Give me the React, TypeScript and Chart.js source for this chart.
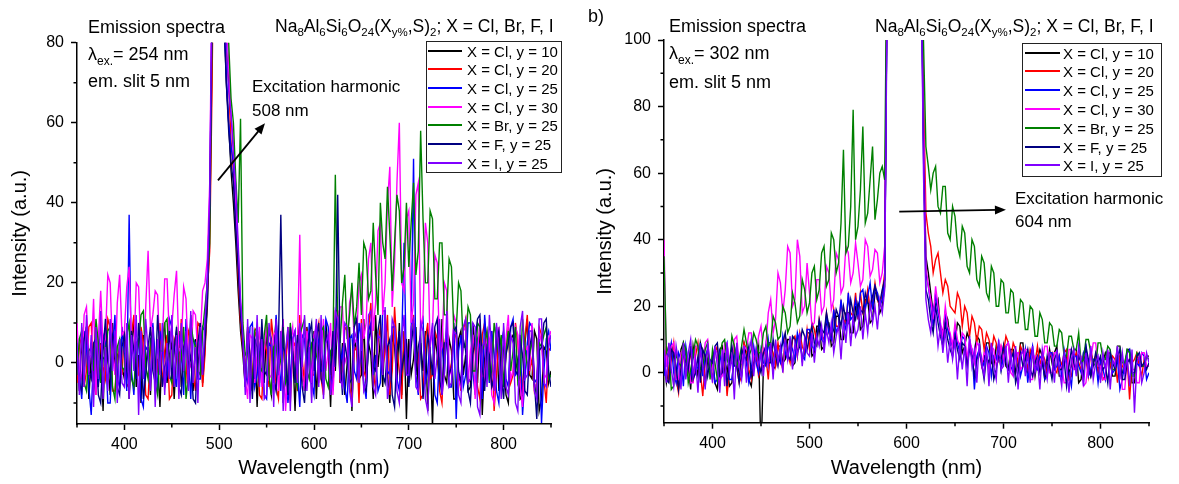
import React, { useEffect, useRef } from 'react';
import { Chart, registerables } from 'chart.js';

Chart.register(...registerables);

const FONT = '"Liberation Sans", Arial, Helvetica, sans-serif';
Chart.defaults.font.family = FONT;

// ---------- data (2.5 nm steps) ----------
const WAVELENGTHS = [
  350, 352.5, 355, 357.5, 360, 362.5, 365, 367.5, 370, 372.5, 375, 377.5, 380, 382.5, 385, 387.5, 390, 392.5, 395, 397.5,
  400, 402.5, 405, 407.5, 410, 412.5, 415, 417.5, 420, 422.5, 425, 427.5, 430, 432.5, 435, 437.5, 440, 442.5, 445, 447.5,
  450, 452.5, 455, 457.5, 460, 462.5, 465, 467.5, 470, 472.5, 475, 477.5, 480, 482.5, 485, 487.5, 490, 492.5, 495, 497.5,
  500, 502.5, 505, 507.5, 510, 512.5, 515, 517.5, 520, 522.5, 525, 527.5, 530, 532.5, 535, 537.5, 540, 542.5, 545, 547.5,
  550, 552.5, 555, 557.5, 560, 562.5, 565, 567.5, 570, 572.5, 575, 577.5, 580, 582.5, 585, 587.5, 590, 592.5, 595, 597.5,
  600, 602.5, 605, 607.5, 610, 612.5, 615, 617.5, 620, 622.5, 625, 627.5, 630, 632.5, 635, 637.5, 640, 642.5, 645, 647.5,
  650, 652.5, 655, 657.5, 660, 662.5, 665, 667.5, 670, 672.5, 675, 677.5, 680, 682.5, 685, 687.5, 690, 692.5, 695, 697.5,
  700, 702.5, 705, 707.5, 710, 712.5, 715, 717.5, 720, 722.5, 725, 727.5, 730, 732.5, 735, 737.5, 740, 742.5, 745, 747.5,
  750, 752.5, 755, 757.5, 760, 762.5, 765, 767.5, 770, 772.5, 775, 777.5, 780, 782.5, 785, 787.5, 790, 792.5, 795, 797.5,
  800, 802.5, 805, 807.5, 810, 812.5, 815, 817.5, 820, 822.5, 825, 827.5, 830, 832.5, 835, 837.5, 840, 842.5, 845, 847.5,
  850,
];

const SERIES_LABELS = [
  'X = Cl, y = 10',
  'X = Cl, y = 20',
  'X = Cl, y = 25',
  'X = Cl, y = 30',
  'X = Br, y = 25',
  'X = F, y = 25',
  'X = I, y = 25',
];
const SERIES_COLORS = ['#000000', '#ff0000', '#0000ff', '#ff00ff', '#008000', '#000080', '#8000ff'];

// panel a) excitation 254 nm
const L_CL10 = [
  3, -7, 6, -4, 9, -9, 2, -3, 8, -6, 5, -12, 7, 1, -8, 10, -2, -5, 6, -1,
  -4, 8, -9, 3, 11, -6, 2, -10, 7, -1, 4, -8, 9, -3, 1, -11, 6, 10, -5, 2,
  5, -9, 3, 8, -6, 0, 9, -4, 12, -7, 6, -2, 10, -5, 4, 14, 34, 78, 125, 150,
  155, 118, 88, 70, 60, 48, 40, 30, 18, 8, 2, -6, 9, -3, -7, 6, -11, 4, 7, -5,
  9, -4, -8, 3, 11, -2, 6, -10, 1, 8, -6, 4, -12, 5, 10, -3, -7, 9, 2, -4,
  8, -9, 4, 1, -6, 10, 3, -11, 7, -2, 12, -5, 5, -8, 0, 9, -12, 6, 3, -4,
  -3, 11, -7, 5, 2, -9, 12, -1, 6, -6, 9, -3, -10, 7, 4, -5, 10, -8, 8, -14,
  6, -3, 1, 9, -7, 5, -2, 8, -12, 4, -16, 7, 2, -6, 11, -3, -5, 6, 3, -9,
  -9, 6, 8, -3, 2, -7, -6, 10, 4, -5, 10, -13, 1, 7, 5, -6, -3, 9, -7, 2,
  4, -8, -10, 6, 7, -2, 1, -9, -8, 5, 11, -3, -4, 8, 6, -12, -9, 4, 3, -5,
  -2,
];
const L_CL20 = [
  -5, 4, 7, -6, -2, 9, 10, -4, -8, 6, 4, -1, -4, 11, 9, -7, -7, 2, 3, -3,
  8, -6, -5, 7, 12, -2, -3, 9, 5, -8, -9, 4, 9, -5, -1, 10, -6, 3, 7, -9,
  -8, 6, 4, -5, 11, -1, -4, 8, 6, -3, -7, 10, 9, -6, 2, 18, 28, 70, 125, 150,
  160, 125, 95, 78, 70, 55, 48, 36, 22, 10, 4, -5, 9, 2, -4, 8, 6, -8, -9, 5,
  3, -6, 11, 5, -6, -9, 8, 3, -2, 9, -10, 4, 5, -7, 12, 1, -5, 8, 6, -3,
  -3, 7, 10, -4, -8, 6, 5, -6, -5, 13, 13, -4, -2, 9, 8, -6, -9, 3, 4, -10,
  11, -2, -4, 8, 15, -3, -6, 5, 9, -1, 3, 12, -8, -2, 14, 4, -2, -9, 7, 5,
  -5, 8, 12, -2, 2, -9, -8, 6, 10, -4, -3, 8, 6, -7, -10, 4, 8, -3, 0, 9,
  6, -3, -7, 8, 11, -5, -4, 6, 3, -6, -9, 7, 10, -1, -2, 8, -12, -3, 7, 4,
  -6, 2, 9, -5, -3, 10, 5, -4, -8, 6, 12, -2, 1, -7, -5, 9, 7, -4, -10, 3,
  4,
];
const L_CL25 = [
  6, -3, -9, 8, 4, -6, -13, 2, 9, -5, -2, 7, 5, -10, -10, 3, 12, -4, -6, 9,
  2, -7, 37, -2, -8, 5, 6, -9, -11, 4, 3, -5, 10, 1, -7, 8, 4, -6, -3, 11,
  9, -2, -6, 7, 3, -8, 11, 2, -9, 6, 5, -4, -4, 9, 8, 22, 40, 92, 135, 150,
  150, 110, 88, 72, 60, 54, 50, 38, 26, 14, 6, -3, -5, 9, 10, -6, -3, 4, 7, -8,
  -9, 5, 4, -5, 12, 3, -7, 8, 2, -10, -4, 6, 8, -2, -11, 7, 6, -3, 10, -5,
  -8, 9, 5, -2, -2, 11, 9, -4, -6, 8, 12, -1, 3, -6, -10, 6, 7, -2, -4, 10,
  6, -5, -9, 8, 10, -3, 2, -7, -5, 13, 13, -2, -3, 9, 9, -4, -7, 5, 30, -2,
  -4, 8, 51, -3, -8, 9, 11, -5, -2, 6, 7, -8, -10, 4, 5, -3, 9, -6, -6, 10,
  -14, 3, 7, -6, -3, 10, 10, -2, -8, 6, 4, -9, 12, 3, -5, 8, 2, -7, -10, 5,
  8, -4, -6, 9, 11, -3, -2, 7, -13, -4, 5, 10, 9, -5, -4, 6, -15, -2, 6, 8,
  3,
];
const L_CL30 = [
  10, -2, -4, 12, 14, 1, 2, 16, -8, 6, 18, 4, 6, 22, 20, 3, -3, 15, 22, 7,
  8, 19, 24, 5, 3, 20, 19, 2, -2, 14, 28, 8, 12, 18, 17, 1, 5, 21, 21, 6,
  9, 17, 23, 3, 4, 19, 16, 0, -1, 13, 12, 2, 6, 18, 20, 26, 45, 100, 140, 155,
  160, 128, 100, 86, 75, 62, 55, 40, 28, 15, 8, -4, -9, 7, 6, -5, 2, 9, -6, 3,
  10, -4, -3, 7, 8, -7, 5, 11, -12, -2, 5, 9, -2, 4, 32, -3, -7, 8, 4, -5,
  7, 9, -5, 2, 11, -2, 3, 10, -8, 4, 9, 14, 14, 0, 2, 15, 18, 5, 6, 20,
  22, 6, 10, 26, 30, 8, 15, 33, 35, 12, 20, 40, 49, 14, 25, 45, 60, 20, 18, 36,
  38, 10, 15, 42, 45, 8, 12, 35, 30, 4, 8, 27, 25, 2, 4, 20, 18, -1, -3, 12,
  10, -4, -6, 9, 8, -5, 3, 7, -9, 2, 11, -3, -4, 8, 6, -8, -10, 4, 9, -2,
  -5, 6, 12, -4, -2, 9, 7, -6, -11, 3, 4, -2, 10, -5, -7, 8, 5, -4, -3, 6,
  8,
];
const L_BR25 = [
  -3, 6, 8, -5, -7, 3, 4, -2, 11, 5, -5, 1, 2, 8, 9, -6, -9, 4, 6, -1,
  -2, 7, 10, -4, -6, 2, 5, 12, 13, -1, -4, 6, 7, -5, -8, 3, 3, 10, 11, -3,
  -5, 4, 8, -2, 1, 9, -9, -3, 10, 6, 4, -2, -3, 8, 14, 20, 30, 85, 128, 150,
  155, 120, 98, 88, 80, 66, 60, 46, 35, 61, 10, 2, 3, -5, -6, 8, 9, -1, -2, 7,
  12, -3, -8, 4, 5, -2, 1, 9, -5, -3, 10, 2, -3, -6, 7, 9, 11, -2, -4, 5,
  6, 2, -1, 8, 9, -4, -6, 3, 4, 47, 10, 5, 15, 22, 6, 12, 20, 9, 14, 25,
  12, 30, 28, 16, 18, 35, 22, 12, 40, 30, 26, 44, 32, 18, 30, 42, 38, 20, 24, 40,
  24, 35, 45, 22, 28, 58, 36, 20, 20, 38, 36, 16, 16, 30, 30, 12, 12, 26, 24, 8,
  8, 20, 18, 4, 4, 14, 12, -2, -2, 10, 9, 3, 5, 8, -4, -2, 10, 6, 2, 7,
  -6, 3, 8, -2, 3, 9, -5, -3, 11, 4, -1, 2, 6, -6, -8, 5, 4, 7, 9, -4,
  -3,
];
const L_F25 = [
  2, -5, -7, 6, 9, -2, -4, 5, 6, -8, -10, 3, 11, 1, -3, 7, 5, -6, -8, 4,
  7, -2, -5, 8, 3, -4, 10, 2, -9, -3, 4, 9, -2, -5, 12, 3, -6, -1, 1, 8,
  -4, 3, 9, -6, -8, 4, 6, -1, 2, -9, -10, 5, 10, -3, 5, 16, 38, 88, 132, 150,
  150, 112, 86, 70, 58, 50, 45, 33, 24, 12, 5, -6, 8, 2, -9, 6, 4, -5, 11, -2,
  -3, 8, 6, -4, -7, 5, 37, 4, 2, -8, 9, 3, -5, 7, 3, -6, -10, 2, 7, 10,
  -2, 6, 10, -4, -6, 8, 4, -3, 8, -1, 42, 3, -8, 5, 1, -5, -4, 9, 11, -2,
  3, -6, -7, 5, 9, -1, -2, 8, 12, -3, -5, 4, 6, -8, -11, 3, 8, -2, 2, 6,
  -6, 4, 10, -3, 4, 7, -9, -2, 7, 3, -3, 9, 11, -4, -8, 5, 5, -3, -1, 8,
  9, -2, -5, 6, 3, -7, -10, 2, 6, 11, 12, -1, -7, 4, 2, -6, -4, 5, 8, -3,
  -9, 2, 5, 9, 10, -2, -3, 6, 2, -7, -8, 4, 7, -5, -14, 3, 4, 10, 11, -2,
  -6,
];
const L_I25 = [
  5, -8, 10, -6, 12, -3, 7, -11, 9, -4, 13, -9, 4, -7, 11, -2, 8, -10, 6, -5,
  -6, 10, -9, 7, -2, 12, -13, 8, -4, 11, 3, -7, 9, -11, 6, -3, 10, -8, 5, -4,
  12, -6, 7, -9, 10, -2, 8, -7, 13, -5, 4, -10, 9, -3, 11, 20, 42, 95, 140, 155,
  160, 124, 92, 80, 68, 62, 52, 44, 30, 16, 7, -8, 11, -10, 9, -4, 12, -6, 6, -9,
  -8, 10, 5, -11, 11, -3, 8, -12, 3, 9, -12, 6, 8, -5, 10, -1, 12, -7, 4, -10,
  4, 11, -6, 12, -9, 5, 7, -8, -3, 13, 11, -4, -6, 10, 9, -7, -11, 8, 6, -5,
  10, -7, -5, 12, 13, -6, -8, 7, 6, -3, 14, -9, -4, 11, 9, -7, -10, 6, 12, -3,
  -3, 9, 11, -6, -7, 10, 8, -9, -12, 5, 10, -4, 2, 11, -8, -3, 13, -6, -5, 8,
  7, -8, -10, 9, 11, -5, -4, 10, 9, -11, -13, 4, 6, -6, 12, 3, -7, 10, 3, -9,
  10, -6, -8, 7, 5, -10, -12, 9, 13, -4, -3, 8, 8, -7, -9, 11, 11, -5, -6, 4,
  7,
];

// panel b) excitation 302 nm
const R_CL10 = [
  6, -3, 1, 8, 5, -2, -4, 7, 9, 0, 2, -5, 8, 3, -1, 9, 6, -4, 4, 1,
  5, -3, -5, 7, 8, 0, 2, -4, -3, 6, 7, -1, 4, 9, 5, -2, -4, 3, 4, 8,
  -25, 2, 3, 9, 9, 1, 2, 8, 8, 3, 4, 10, 10, 2, 3, 11, 11, 4, 6, 12,
  12, 5, 6, 14, 14, 7, 8, 15, 15, 8, 9, 17, 17, 10, 10, 18, 18, 12, 12, 20,
  20, 13, 14, 22, 22, 15, 16, 24, 24, 18, 20, 26, 120, 150, 150, 150, 150, 150, 150, 150,
  150, 150, 150, 150, 150, 150, 130, 72, 35, 30, 24, 18, 20, 22, 14, 12, 18, 16, 10, 9,
  9, 15, 14, 6, 8, 12, 10, 4, 6, 11, 10, 2, 4, 9, 9, 3, 2, 8, 7, 1,
  8, 2, 1, 7, 7, 0, 3, 9, 9, 1, 0, 6, 6, -1, 4, 7, 5, -2, 1, 7,
  3, 6, 8, -1, -1, 5, 5, 0, 2, 7, 7, -3, -2, 6, 6, 1, -1, 4, 4, 2,
  -2, 3, 6, 4, 3, -1, -1, 5, 5, 0, 0, 7, 7, -3, -3, 4, 4, 2, 2, 5,
  5,
];
const R_CL20 = [
  2, 8, -3, 4, 9, -2, -6, 5, 6, -1, 1, 7, -3, 5, 9, 0, -7, 4, 7, 2,
  -2, 6, 8, -4, 3, 6, -7, 1, 5, 8, 2, -3, -1, 9, 7, 1, -2, 6, 5, -1,
  1, 7, 5, -2, 8, 6, 2, 9, 4, 1, 11, 6, 3, 10, 11, 5, 12, 8, 6, 13,
  7, 15, 13, 9, 16, 11, 10, 18, 12, 10, 19, 14, 14, 21, 16, 15, 23, 18, 17, 24,
  16, 24, 18, 20, 25, 19, 21, 27, 22, 20, 24, 30, 125, 150, 150, 150, 150, 150, 150, 150,
  150, 150, 150, 150, 150, 150, 135, 85, 48, 42, 38, 30, 34, 36, 30, 24, 28, 26, 20, 19,
  18, 24, 22, 14, 20, 18, 11, 17, 15, 9, 14, 13, 7, 12, 10, 6, 11, 9, 4, 8,
  6, 11, 9, 4, 9, 7, 3, 8, 6, 5, 1, 7, 5, 3, 8, 2, 6, 4, 0, 5,
  6, 1, 0, 5, 2, 6, 7, -2, -1, 4, 6, 3, 1, 5, 4, -1, 7, 3, 5, 0,
  3, -2, -1, 6, 2, 5, 4, -3, 5, 2, 1, 4, -8, 3, 4, 6, 2, -1, 4, 2,
  2,
];
const R_CL25 = [
  -1, 6, 5, 9, 0, -3, 6, 4, -4, 8, 3, -2, 7, 0, 2, 9, -1, 5, 7, 1,
  4, -3, -2, 6, 1, 7, 9, -2, -2, 5, 8, 1, -1, 6, 3, -3, 1, 8, 3, 0,
  7, 3, 2, 10, 4, 1, 8, 5, 3, 11, 6, 4, 9, 7, 4, 12, 9, 5, 4, 13,
  13, 8, 7, 11, 15, 10, 9, 17, 12, 10, 19, 12, 14, 22, 15, 13, 24, 16, 17, 22,
  17, 24, 25, 19, 23, 27, 19, 26, 24, 20, 22, 28, 118, 150, 150, 150, 150, 150, 150, 150,
  150, 150, 150, 150, 150, 150, 128, 70, 30, 26, 20, 14, 24, 18, 14, 10, 18, 13, 10, 8,
  13, 9, 6, 11, 10, 3, 9, 7, -5, 5, 7, 4, 2, 8, 6, -1, 5, 4, 9, 1,
  5, 8, 9, 2, 0, 6, 6, -1, 2, 7, -3, 4, 8, 2, 1, 5, 4, -2, -1, 6,
  6, 1, 2, 5, -1, 7, 3, 0, -4, 5, 5, 2, 0, 6, 8, -1, 1, 4, 4, -3,
  4, 1, -2, 6, 6, 0, 1, 4, -5, -2, 3, 6, 7, 0, -1, 3, 2, 6, 5, -2,
  0,
];
const R_CL30 = [
  40, 2, 3, 8, 9, -2, -2, 6, 7, 3, 4, -3, -3, 8, 8, 1, 2, 9, 10, 0,
  1, 7, 6, -2, -1, 9, 9, 3, 4, 10, 11, 2, 3, 8, 7, 12, 12, 4, 5, 11,
  14, 6, 8, 18, 22, 12, 16, 30, 27, 18, 25, 38, 36, 20, 22, 40, 35, 18, 20, 33,
  24, 14, 15, 28, 28, 18, 20, 32, 30, 19, 22, 36, 34, 24, 26, 38, 36, 27, 30, 39,
  33, 26, 28, 40, 38, 29, 31, 37, 36, 27, 30, 38, 122, 150, 150, 150, 150, 150, 150, 150,
  150, 150, 150, 150, 150, 150, 132, 78, 32, 26, 22, 16, 26, 20, 15, 11, 20, 14, 12, 8,
  15, 10, 8, 12, 11, 4, 10, 7, 3, 9, 8, 2, 6, 5, 1, 8, 7, 2, 4, 8,
  4, 8, 9, 0, -1, 6, 6, 1, 2, 7, 7, -2, -2, 5, 5, 2, 3, 8, 8, 0,
  0, 6, 6, 1, 2, -3, -3, 7, 7, 1, 1, 5, 5, -4, -3, 4, 4, 9, 9, 2,
  2, -2, -2, 6, 6, 3, 3, 8, 8, -5, -5, 4, 4, 1, 1, -3, -3, 6, 6, 2,
  2,
];
const R_BR25 = [
  35, 6, 8, -5, -4, 6, 3, 2, 9, 7, -3, 1, 5, 10, 8, 1, 2, 7, 9, -2,
  7, 3, -2, 5, 9, 10, 4, 2, 11, 8, 2, 4, 8, 13, 9, 5, 7, 12, 10, 6,
  6, 12, 14, 8, 9, 17, 15, 10, 11, 20, 18, 12, 14, 24, 21, 15, 17, 28, 25, 18,
  21, 30, 32, 22, 25, 36, 38, 26, 28, 42, 40, 30, 33, 45, 67, 36, 38, 50, 79, 40,
  44, 55, 74, 45, 48, 58, 68, 46, 52, 60, 62, 58, 135, 150, 150, 150, 150, 150, 150, 150,
  150, 150, 150, 150, 150, 150, 140, 100, 68, 62, 55, 60, 62, 50, 48, 56, 56, 42, 40, 50,
  47, 38, 35, 44, 42, 32, 30, 40, 38, 28, 26, 35, 33, 24, 22, 32, 30, 20, 20, 28,
  27, 18, 18, 25, 24, 15, 15, 22, 21, 13, 13, 20, 19, 11, 11, 18, 16, 9, 9, 15,
  14, 8, 8, 13, 12, 5, 5, 11, 11, 7, 7, 12, 3, 4, 10, 10, 6, 3, 2, 9,
  9, 4, 4, 8, 7, 1, 1, 8, 8, 3, 3, 7, 6, -1, -1, 6, 5, 2, 2, 5,
  4,
];
const R_F25 = [
  4, -2, -3, 7, 6, 2, -5, 1, 6, 3, 1, 8, -2, 0, 5, -3, 7, 5, -1, 4,
  3, 8, 9, -1, 0, 6, -4, 3, 8, 2, 2, -3, 7, 5, 4, 8, -1, 2, 7, 3,
  0, 6, 8, 3, 3, 10, 5, 2, 7, 9, 12, 5, 4, 11, 10, 6, 8, 13, 11, 7,
  11, 14, 9, 8, 16, 13, 12, 18, 14, 11, 13, 19, 17, 14, 20, 16, 15, 22, 18, 16,
  21, 19, 18, 24, 21, 20, 23, 26, 22, 21, 25, 28, 115, 150, 150, 150, 150, 150, 150, 150,
  150, 150, 150, 150, 150, 150, 126, 66, 25, 22, 16, 12, 20, 15, 11, 8, 15, 10, 7, 5,
  11, 7, 4, 9, 8, 2, 7, 5, -1, 4, 6, 3, -2, 5, 3, 6, -2, 1, 5, 4,
  8, 3, 1, 4, 6, -3, 0, 6, 2, 4, 7, 1, -1, 3, 5, 0, 3, -1, 5, 2,
  -2, 4, 6, 1, 1, 4, -4, 2, 7, 3, 0, 5, 3, -1, 8, 4, -1, 2, 6, 3,
  5, 1, 2, -3, 6, 3, 1, 5, 7, -2, -2, 3, 4, 0, 0, 5, 6, 2, 3, 1,
  3,
];
const R_I25 = [
  7, -3, 9, 1, -4, 8, 3, -5, 9, -2, 6, 10, -1, 4, -6, 7, 2, -5, 9, 3,
  -3, 8, 2, -6, 7, -4, 9, 0, 5, -8, 9, 2, -2, 8, -3, 6, 10, -1, 7, 2,
  6, -1, 8, 2, 9, -2, 10, 3, 8, 0, 10, 4, 11, 1, 9, 5, 12, 2, 10, 6,
  5, 12, 3, 11, 8, 14, 6, 13, 9, 15, 6, 11, 14, 4, 16, 9, 18, 8, 17, 11,
  13, 20, 10, 18, 12, 21, 15, 20, 13, 22, 18, 25, 110, 150, 150, 150, 150, 150, 150, 150,
  150, 150, 150, 150, 150, 150, 124, 60, 22, 16, 12, 20, 17, 8, 14, 6, 13, 3, 10, 4,
  10, -2, 9, 1, 8, -4, 11, 2, 7, -3, 9, 3, -1, 8, -4, 9, 2, -2, 10, 1,
  2, 8, -3, 6, 0, 8, -5, 5, 7, -1, 6, -3, 8, 0, 4, -5, 7, 2, -2, 6,
  5, -3, 7, 1, -4, 6, 2, -6, 4, 7, -1, 8, 3, -4, 6, 0, 8, -2, 3, 5,
  -3, 6, 1, 7, -5, 4, 2, 8, -2, 6, 0, 5, -4, 7, -12, 3, 5, -3, 0, 6,
  3,
];

const X_TICKS = [400, 500, 600, 700, 800];
const X_MINOR_TICKS = [350, 450, 550, 650, 750, 850];
const LEFT_Y_TICKS = [0, 20, 40, 60, 80];
const LEFT_Y_MINOR_TICKS = [-10, 10, 30, 50, 70];
const RIGHT_Y_TICKS = [0, 20, 40, 60, 80, 100];
const RIGHT_Y_MINOR_TICKS = [-10, 10, 30, 50, 70, 90];

// annotation arrows (data coordinates: [wavelength, intensity])
const LEFT_ARROW = { from: [498.7, 45.6], to: [548.3, 59.9] };
const RIGHT_ARROW = { from: [592.5, 48.4], to: [702.5, 49.0] };

// ---------- chart panel ----------
type PanelProps = {
  series: number[][];
  yMin: number;
  yMax: number;
  yTicks: number[];
  yMinor: number[];
  arrow: { from: number[]; to: number[] };
  left: number;
  width: number;
  padTop: number;
  padRight: number;
  yAxisWidth: number;
  xAxisHeight: number;
  yTitlePad: number;
};

function Panel(p: PanelProps) {
  const ref = useRef<HTMLCanvasElement | null>(null);
  useEffect(() => {
    if (!ref.current) return;
    const decor = {
      id: 'decor',
      afterDraw(chart: any) {
        const { ctx, chartArea } = chart;
        const xs = chart.scales.x;
        const ys = chart.scales.y;
        ctx.save();
        ctx.strokeStyle = '#000';
        ctx.lineWidth = 1.5;
        ctx.beginPath();
        p.yMinor.forEach((v) => {
          const py = ys.getPixelForValue(v);
          ctx.moveTo(chartArea.left, py);
          ctx.lineTo(chartArea.left - 3.5, py);
        });
        X_MINOR_TICKS.forEach((v) => {
          const px = xs.getPixelForValue(v);
          ctx.moveTo(px, chartArea.bottom);
          ctx.lineTo(px, chartArea.bottom + 3.5);
        });
        ctx.stroke();
        // arrow
        const x0 = xs.getPixelForValue(p.arrow.from[0]);
        const y0 = ys.getPixelForValue(p.arrow.from[1]);
        const x1 = xs.getPixelForValue(p.arrow.to[0]);
        const y1 = ys.getPixelForValue(p.arrow.to[1]);
        const len = Math.hypot(x1 - x0, y1 - y0);
        const ux = (x1 - x0) / len;
        const uy = (y1 - y0) / len;
        const hl = 11;
        const hw = 4.5;
        ctx.lineWidth = 1.8;
        ctx.beginPath();
        ctx.moveTo(x0, y0);
        ctx.lineTo(x1 - ux * (hl - 2), y1 - uy * (hl - 2));
        ctx.stroke();
        ctx.fillStyle = '#000';
        ctx.beginPath();
        ctx.moveTo(x1, y1);
        ctx.lineTo(x1 - ux * hl - uy * hw, y1 - uy * hl + ux * hw);
        ctx.lineTo(x1 - ux * hl + uy * hw, y1 - uy * hl - ux * hw);
        ctx.closePath();
        ctx.fill();
        ctx.restore();
      },
    };
    const tickFont = { size: 16, family: FONT };
    const grid = {
      display: true,
      drawOnChartArea: false,
      drawTicks: true,
      tickLength: 6,
      tickWidth: 1.5,
      tickColor: '#000',
    };
    const border = { display: true, color: '#000', width: 1.5 };
    const chart = new Chart(ref.current, {
      type: 'line',
      data: {
        datasets: p.series.map((s, i) => ({
          label: SERIES_LABELS[i],
          data: s.map((v, j) => ({ x: WAVELENGTHS[j], y: v })),
          borderColor: SERIES_COLORS[i],
          backgroundColor: SERIES_COLORS[i],
          borderWidth: 1.4,
          pointRadius: 0,
          tension: 0,
          fill: false,
          order: SERIES_LABELS.length - 1 - i,
        })),
      },
      options: {
        animation: false,
        responsive: false,
        events: [],
        layout: { padding: { top: p.padTop, right: p.padRight, left: 0, bottom: 0 } },
        plugins: { legend: { display: false }, tooltip: { enabled: false } },
        scales: {
          x: {
            type: 'linear',
            min: 350,
            max: 850,
            afterBuildTicks: (s: any) => {
              s.ticks = X_TICKS.map((v) => ({ value: v }));
            },
            afterFit: (s: any) => {
              s.height = p.xAxisHeight;
            },
            ticks: { autoSkip: false, maxRotation: 0, color: '#000', font: tickFont, padding: 5 },
            grid,
            border,
            title: {
              display: true,
              text: 'Wavelength (nm)',
              color: '#000',
              font: { size: 20, family: FONT },
              padding: { top: 0, bottom: 4 },
            },
          },
          y: {
            type: 'linear',
            min: p.yMin,
            max: p.yMax,
            afterBuildTicks: (s: any) => {
              s.ticks = p.yTicks.map((v) => ({ value: v }));
            },
            afterFit: (s: any) => {
              s.width = p.yAxisWidth;
            },
            ticks: { autoSkip: false, color: '#000', font: tickFont, padding: 7 },
            grid,
            border,
            title: {
              display: true,
              text: 'Intensity (a.u.)',
              color: '#000',
              font: { size: 20, family: FONT },
              padding: { top: p.yTitlePad, bottom: 0 },
            },
          },
        },
      },
      plugins: [decor],
    } as any);
    return () => chart.destroy();
  }, []);
  return (
    <canvas
      ref={ref}
      width={p.width}
      height={484}
      style={{ position: 'absolute', left: p.left, top: 0, width: p.width, height: 484 }}
    />
  );
}

// ---------- text helpers ----------
function Txt(props: { x: number; baseline: number; size: number; children: any }) {
  return (
    <div
      style={{
        position: 'absolute',
        left: props.x,
        top: props.baseline - 0.8465 * props.size,
        fontSize: props.size,
        lineHeight: 1,
        whiteSpace: 'nowrap',
      }}
    >
      {props.children}
    </div>
  );
}

function Sub(props: { children: any; size?: number; drop?: number }) {
  return (
    <span style={{ fontSize: props.size ?? 11.5, position: 'relative', top: props.drop ?? 4 }}>
      {props.children}
    </span>
  );
}

function Formula(props: { x: number; baseline: number }) {
  return (
    <Txt x={props.x} baseline={props.baseline} size={17.5}>
      Na<Sub>8</Sub>Al<Sub>6</Sub>Si<Sub>6</Sub>O<Sub>24</Sub>(X<Sub>y%</Sub>,S)<Sub>2</Sub>; X = Cl, Br, F, I
    </Txt>
  );
}

function Legend(props: { left: number; top: number; width: number; height: number; gap: number; lx0: number; lx1: number; tx: number }) {
  return (
    <div
      style={{
        position: 'absolute',
        left: props.left,
        top: props.top,
        width: props.width,
        height: props.height,
        boxSizing: 'border-box',
        border: '1.5px solid #222',
        background: '#fff',
      }}
    >
      {SERIES_LABELS.map((lab, i) => {
        const cy = Math.round(8.5 + i * props.gap);
        return (
          <React.Fragment key={lab}>
            <div
              style={{
                position: 'absolute',
                left: props.lx0,
                width: props.lx1 - props.lx0,
                top: cy - 1,
                height: 1.5,
                background: SERIES_COLORS[i],
              }}
            />
            <div
              style={{
                position: 'absolute',
                left: props.tx,
                top: cy - 7.5,
                fontSize: 15,
                lineHeight: 1,
                whiteSpace: 'nowrap',
              }}
            >
              {lab}
            </div>
          </React.Fragment>
        );
      })}
    </div>
  );
}

export default function App() {
  return (
    <div
      style={{
        position: 'fixed',
        left: 0,
        top: 0,
        width: 1179,
        height: 484,
        background: '#fff',
        fontFamily: FONT,
        color: '#000',
        overflow: 'hidden',
      }}
    >
      <Panel
        series={[L_CL10, L_CL20, L_CL25, L_CL30, L_BR25, L_F25, L_I25]}
        yMin={-15.25}
        yMax={80}
        yTicks={LEFT_Y_TICKS}
        yMinor={LEFT_Y_MINOR_TICKS}
        arrow={LEFT_ARROW}
        left={0}
        width={590}
        padTop={42.7}
        padRight={39}
        yAxisWidth={77}
        xAxisHeight={60}
        yTitlePad={8}
      />
      <Panel
        series={[R_CL10, R_CL20, R_CL25, R_CL30, R_BR25, R_F25, R_I25]}
        yMin={-15}
        yMax={100}
        yTicks={RIGHT_Y_TICKS}
        yMinor={RIGHT_Y_MINOR_TICKS}
        arrow={RIGHT_ARROW}
        left={590}
        width={589}
        padTop={40}
        padRight={30}
        yAxisWidth={74}
        xAxisHeight={61.3}
        yTitlePad={3}
      />

      {/* panel a) texts */}
      <Txt x={88} baseline={33} size={18}>Emission spectra</Txt>
      <Txt x={88} baseline={60} size={18}>
        λ<Sub size={12} drop={5}>ex.</Sub>= 254 nm
      </Txt>
      <Txt x={88} baseline={87} size={18}>em. slit 5 nm</Txt>
      <Formula x={275} baseline={33} />
      <Txt x={252} baseline={92} size={17}>Excitation harmonic</Txt>
      <Txt x={252} baseline={116} size={17}>508 nm</Txt>
      <Legend left={426} top={41} width={136} height={132} gap={18.7} lx0={1} lx1={35} tx={40} />

      {/* panel b) texts */}
      <Txt x={588} baseline={22} size={18}>b)</Txt>
      <Txt x={669} baseline={32} size={18}>Emission spectra</Txt>
      <Txt x={669} baseline={59} size={18}>
        λ<Sub size={12} drop={5}>ex.</Sub>= 302 nm
      </Txt>
      <Txt x={669} baseline={88} size={18}>em. slit 5 nm</Txt>
      <Formula x={875} baseline={33} />
      <Txt x={1015} baseline={204} size={17}>Excitation harmonic</Txt>
      <Txt x={1015} baseline={227} size={17}>604 nm</Txt>
      <Legend left={1022} top={43} width={140} height={134} gap={18.8} lx0={2} lx1={37} tx={40} />
    </div>
  );
}
